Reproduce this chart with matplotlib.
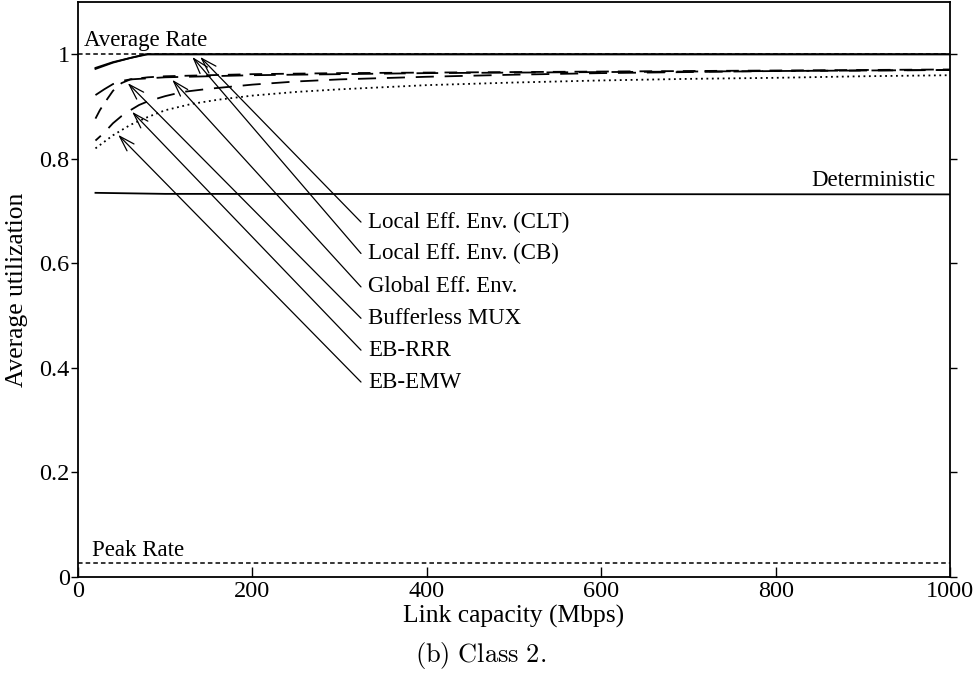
import numpy as np
import matplotlib
matplotlib.use("Agg")
import matplotlib.pyplot as plt

plt.rcParams["font.family"] = ["Liberation Serif", "DejaVu Serif"]
plt.rcParams["mathtext.fontset"] = "cm"

# Link capacity (Mbps) and utilisation curves
cap_clt = [20, 40, 60, 77, 100, 200, 400, 600, 800, 1000]
util_clt = [0.974, 0.985, 0.993, 1.0, 1.0, 1.0, 1.0, 1.0, 1.0, 1.0]

cap_cb = [20, 40, 60, 80, 100, 200, 400, 600, 800, 1000]
util_cb = [0.972, 0.984, 0.993, 1.0, 1.0, 1.0, 1.0, 1.0, 1.0, 1.0]

cap_global = [20, 30, 40, 50, 60, 80, 100, 150, 200, 300, 400, 500, 600, 700, 800, 900, 1000]
util_global = [0.922, 0.933, 0.943, 0.949, 0.952, 0.954, 0.956, 0.958, 0.960, 0.962,
               0.964, 0.965, 0.966, 0.967, 0.968, 0.969, 0.970]

cap_mux = [20, 25, 30, 35, 40, 45, 50, 60, 80, 100, 150, 200, 300, 400, 500, 600, 700, 800, 900, 1000]
util_mux = [0.877, 0.893, 0.906, 0.918, 0.930, 0.938, 0.945, 0.952, 0.956, 0.958, 0.960,
            0.962, 0.964, 0.965, 0.966, 0.967, 0.968, 0.969, 0.970, 0.971]

cap_rrr = [20, 30, 40, 50, 60, 70, 80, 100, 120, 150, 200, 250, 300, 400, 500, 600, 700, 800, 900, 1000]
util_rrr = [0.835, 0.850, 0.868, 0.882, 0.893, 0.903, 0.910, 0.920, 0.928, 0.934, 0.942,
            0.948, 0.952, 0.957, 0.961, 0.964, 0.966, 0.968, 0.969, 0.970]

cap_emw = [20, 40, 60, 80, 100, 130, 160, 200, 250, 300, 350, 400, 500, 600, 700, 800, 900, 1000]
util_emw = [0.820, 0.845, 0.865, 0.880, 0.893, 0.905, 0.913, 0.921, 0.928, 0.933, 0.937,
            0.941, 0.946, 0.950, 0.953, 0.955, 0.958, 0.960]

cap_det = [20, 100, 1000]
util_det = [0.735, 0.733, 0.732]

average_rate = 1.0
peak_rate = 0.026

labels = ["Local Eff. Env. (CLT)", "Local Eff. Env. (CB)", "Global Eff. Env.",
          "Bufferless MUX", "EB-RRR", "EB-EMW"]
label_y = [0.679, 0.619, 0.555, 0.495, 0.434, 0.373]
arrow_x = [140, 131, 108, 57, 62, 46]

xticks = [0, 200, 400, 600, 800, 1000]
yticks = [0, 0.2, 0.4, 0.6, 0.8, 1]
ytick_labels = ["0", "0.2", "0.4", "0.6", "0.8", "1"]

fig = plt.figure(figsize=(9.73, 6.76), dpi=100)
ax = fig.add_axes([0.0802, 0.1464, 0.8962, 0.8506])

lw = 1.3
ax.axhline(average_rate, color="black", lw=1.1, ls=(0, (3, 2)))
ax.axhline(peak_rate, color="black", lw=1.1, ls=(0, (3, 2)))

series = [
    (cap_clt, util_clt, "-"),
    (cap_cb, util_cb, "-"),
    (cap_global, util_global, (0, (12, 6))),
    (cap_mux, util_mux, (0, (7, 5))),
    (cap_rrr, util_rrr, (6, (10, 6))),
    (cap_emw, util_emw, (0, (1, 2))),
]
for xs, ys, style in series:
    ax.plot(xs, ys, color="black", lw=lw, ls=style)
ax.plot(cap_det, util_det, color="black", lw=lw)

# labels with arrows pointing at their curves
for (xs, ys, _), text, ty, ax_x in zip(series, labels, label_y, arrow_x):
    tip_y = float(np.interp(ax_x, xs, ys)) - 0.005
    ax.annotate("", xy=(ax_x, tip_y), xytext=(324.5, ty),
                arrowprops=dict(arrowstyle="->,head_length=0.7,head_width=0.22",
                                color="black", lw=0.9,
                                shrinkA=0, shrinkB=0, mutation_scale=16))
    ax.text(332.5, ty, text, fontsize=16.5, va="center", ha="left")

ax.text(7, 1.015, "Average Rate", fontsize=16.5, va="baseline", ha="left")
ax.text(16, 0.04, "Peak Rate", fontsize=16.5, va="baseline", ha="left")
ax.text(983, 0.748, "Deterministic", fontsize=16.5, va="baseline", ha="right")

ax.set_xlim(0, 1000)
ax.set_ylim(0, 1.1)
ax.set_xticks(xticks)
ax.set_xticklabels([str(v) for v in xticks])
ax.set_yticks(yticks)
ax.set_yticklabels(ytick_labels)
ax.tick_params(axis="x", direction="in", length=7, width=1, labelsize=17.5, pad=3)
ax.tick_params(axis="y", direction="out", length=5, width=1, labelsize=17.5, pad=1,
               right=True)
for s in ax.spines.values():
    s.set_linewidth(1.3)

ax.set_xlabel("Link capacity (Mbps)", fontsize=18.4, labelpad=2)
ax.set_ylabel("Average utilization", fontsize=18.4, labelpad=8)

fig.text(0.494, 0.031, r"$\mathrm{(b)\ Class\ 2.}$", fontsize=19, ha="center", va="center")

fig.savefig("out.png", dpi=100)
